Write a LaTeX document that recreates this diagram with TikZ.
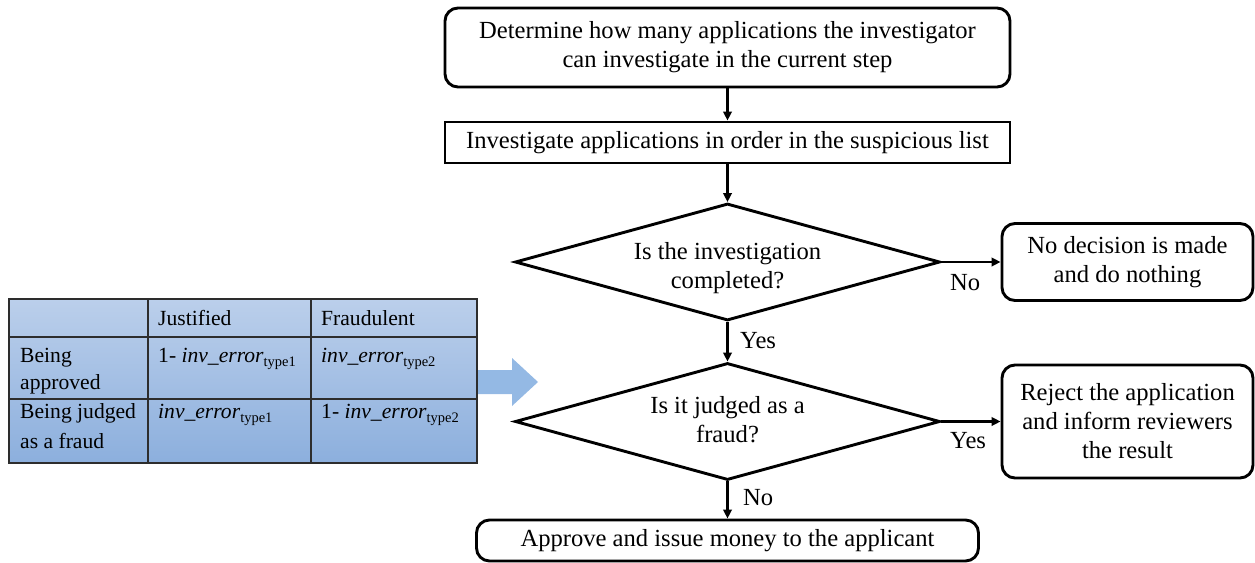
\documentclass[tikz,border=0pt]{standalone}
\usepackage{fontspec}
\setmainfont{Liberation Serif}
\usetikzlibrary{shapes.geometric,arrows.meta}
\definecolor{tabtop}{RGB}{187,207,235}
\definecolor{tabbot}{RGB}{140,175,221}
\definecolor{bluearrow}{RGB}{148,185,228}
\definecolor{gridline}{RGB}{45,45,45}
% italic error term with an upright subscript
\newcommand{\inverr}[1]{\textit{inv\_error}\raisebox{-4.5pt}{\fontsize{14.5}{14.5}\selectfont type#1}}
\begin{document}
\begin{tikzpicture}[x=1pt,y=-1pt,
  txt/.style={font=\fontsize{24.6}{29}\selectfont, align=center, inner sep=0pt},
  sqbox/.style={txt, draw, line width=2.9pt},
  roundbox/.style={sqbox, rounded corners=13pt},
  decision/.style={draw, line width=2.9pt, diamond, inner sep=0pt},
  conn/.style={line width=2.6pt, -{Triangle[length=9pt,width=8.5pt]}},
  lbl/.style={font=\fontsize{24.6}{29}\selectfont, anchor=base west, inner sep=0pt},
  cell/.style={font=\fontsize{21.6}{27}\selectfont, anchor=base west, inner sep=0pt}]
\useasboundingbox (0,0) rectangle (1255,562);

% flowchart boxes
\node[roundbox, minimum width=565pt, minimum height=79pt] (det) at (727.5,47.5)
  {Determine how many applications the investigator\\can investigate in the current step};
\node[sqbox, minimum width=565pt, minimum height=41pt] (inv) at (727.5,142.5)
  {Investigate applications in order in the suspicious list};
\node[decision, minimum width=425pt, minimum height=117pt] (q1) at (727.5,262) {};
\node[txt] (q1t) at (727.5,268) {Is the investigation\\completed?};
\node[decision, minimum width=425pt, minimum height=117pt] (q2) at (727.5,421.5) {};
\node[txt] (q2t) at (727.5,420) {Is it judged as a\\fraud?};
\node[roundbox, minimum width=251pt, minimum height=77pt] (none) at (1127.5,262)
  {No decision is made\\and do nothing};
\node[roundbox, minimum width=251pt, minimum height=113pt] (rej) at (1127.5,421.5)
  {Reject the application\\and inform reviewers\\the result};
\node[roundbox, minimum width=502pt, minimum height=41pt] (app) at (727.5,540.5)
  {Approve and issue money to the applicant};

% connectors
\draw[conn] (det.south) -- (inv.north);
\draw[conn] (inv.south) -- (q1.north);
\draw[conn] (q1.south) -- (q2.north);
\draw[conn] (q2.south) -- (app.north);
\draw[conn] (q1.east) -- (none.west);
\draw[conn] (q2.east) -- (rej.west);

% branch labels
\node[lbl] (l1) at (950,290) {No};
\node[lbl] (l2) at (740,348) {Yes};
\node[lbl] (l3) at (950,448) {Yes};
\node[lbl] (l4) at (743,505) {No};

% probability table
\shade[top color=tabtop, bottom color=tabbot] (9,299) rectangle (477,463);
\draw[gridline, line width=1.5pt] (9,299) rectangle (477,463)
  (148,299) -- (148,463) (311,299) -- (311,463)
  (9,337) -- (477,337) (9,399) -- (477,399);
\node[cell] (h1) at (158,325) {Justified};
\node[cell] (h2) at (321,325) {Fraudulent};
\node[cell] (r1a) at (20,362) {Being};
\node[cell] (r1b) at (20,389) {approved};
\node[cell] (r2a) at (20,418) {Being judged};
\node[cell] (r2b) at (20,448) {as a fraud};
\node[cell] (c11) at (158,362) {1- \inverr{1}};
\node[cell] (c12) at (321,362) {\inverr{2}};
\node[cell] (c21) at (158,418) {\inverr{1}};
\node[cell] (c22) at (321,418) {1- \inverr{2}};

% block arrow from the table
\fill[bluearrow] (478,370) -- (512,370) -- (512,358) -- (538,382)
  -- (512,406) -- (512,394) -- (478,394) -- cycle;
\end{tikzpicture}
\end{document}
